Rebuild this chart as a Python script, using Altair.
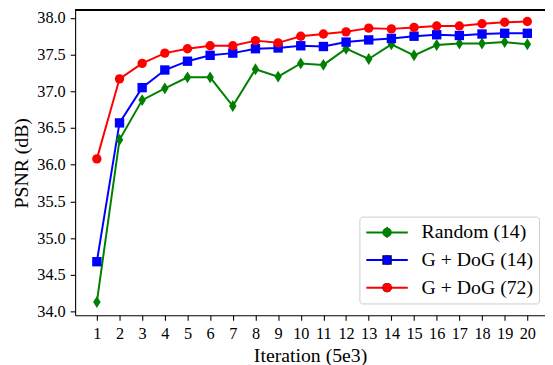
import altair as alt
import pandas as pd

iterations = list(range(1, 21))
series_names = ["Random (14)", "G + DoG (14)", "G + DoG (72)"]
series_colors = ["#008000", "#0000ff", "#ff0000"]
random_14 = [34.13, 36.34, 36.88, 37.04, 37.19, 37.19, 36.80, 37.30, 37.20, 37.38,
             37.36, 37.58, 37.44, 37.64, 37.49, 37.63, 37.65, 37.65, 37.67, 37.64]
gdog_14 = [34.68, 36.57, 37.05, 37.29, 37.41, 37.49, 37.52, 37.58, 37.59, 37.62,
           37.61, 37.67, 37.70, 37.72, 37.75, 37.77, 37.76, 37.78, 37.79, 37.79]
gdog_72 = [36.08, 37.17, 37.38, 37.52, 37.58, 37.62, 37.62, 37.69, 37.66, 37.75,
           37.78, 37.81, 37.86, 37.85, 37.87, 37.89, 37.89, 37.92, 37.94, 37.95]
y_ticks = [34.0, 34.5, 35.0, 35.5, 36.0, 36.5, 37.0, 37.5, 38.0]

rows = []
for name, vals in zip(series_names, [random_14, gdog_14, gdog_72]):
    for it, v in zip(iterations, vals):
        rows.append({"iter": it, "psnr": v, "series": name})
df = pd.DataFrame(rows)

W, H = 476, 309
FONT = "Liberation Serif"

diamond = "M0,-1.27L0.8,0L0,1.27L-0.8,0Z"
marker_shapes = [diamond, "square", "circle"]

LX, LY = 288, 209

axis_style = dict(
    grid=False, tickSize=5, labelPadding=5, labelFlush=False, labelOverlap=False,
    labelFont=FONT, titleFont=FONT, labelFontSize=16.5, titleFontSize=20,
    labelColor="black", titleColor="black", titleFontWeight="normal",
    domainColor="black", tickColor="black", domainWidth=1.1, tickWidth=1.1,
    labelBound=False,
)
x_axis = alt.Axis(values=iterations, format="d", title="Iteration (5e3)",
                  titlePadding=4, **axis_style)
y_axis = alt.Axis(values=y_ticks, format=".1f", title="PSNR (dB)",
                  titlePadding=5, **axis_style)
x_scale = alt.Scale(domain=[0.041, 20.78], nice=False, zero=False)
y_scale = alt.Scale(domain=[33.95, 38.103], nice=False, zero=False)

line_legend = alt.Legend(
    title=None, orient="none", legendX=LX, legendY=LY,
    symbolType="stroke", symbolSize=1764, symbolStrokeWidth=2,
    labelFontSize=20, labelFont=FONT, labelColor="black",
    labelOffset=13, rowPadding=8, clipHeight=20, labelLimit=300,
    fillColor="white", strokeColor="#cccccc", cornerRadius=3, padding=6,
    zindex=1,
)
marker_legend = alt.Legend(
    title=None, orient="none", legendX=LX, legendY=LY,
    symbolSize=90, symbolStrokeWidth=0, symbolOffset=12,
    labelFontSize=20, labelFont=FONT, labelExpr="''",
    labelOffset=13, rowPadding=8, clipHeight=20, padding=6,
    zindex=2,
)

lines = alt.Chart(df).mark_line(strokeWidth=2).encode(
    x=alt.X("iter:Q", scale=x_scale, axis=x_axis),
    y=alt.Y("psnr:Q", scale=y_scale, axis=y_axis),
    color=alt.Color("series:N", scale=alt.Scale(domain=series_names, range=series_colors),
                    sort=series_names, legend=line_legend),
)

points = alt.Chart(df).mark_point(filled=True, opacity=1, size=90).encode(
    x=alt.X("iter:Q", scale=x_scale, axis=x_axis),
    y=alt.Y("psnr:Q", scale=y_scale, axis=y_axis),
    color=alt.Color("series:N", scale=alt.Scale(domain=series_names, range=series_colors),
                    sort=series_names, legend=marker_legend),
    shape=alt.Shape("series:N", scale=alt.Scale(domain=series_names, range=marker_shapes),
                    sort=series_names, legend=marker_legend),
)

top_border = alt.Chart(df).mark_rule(color="black", strokeWidth=1.1).encode(
    x=alt.value(0), x2=alt.value(W), y=alt.value(0)
)

chart = alt.layer(lines, points, top_border).resolve_scale(
    color="independent"
).properties(
    width=W, height=H,
    autosize=alt.AutoSizeParams(type="none"),
    padding={"left": 68, "top": 0, "right": 0, "bottom": 48},
).configure_view(strokeWidth=0)

chart.save("out.html", embed_options={"renderer": "svg", "actions": False})
